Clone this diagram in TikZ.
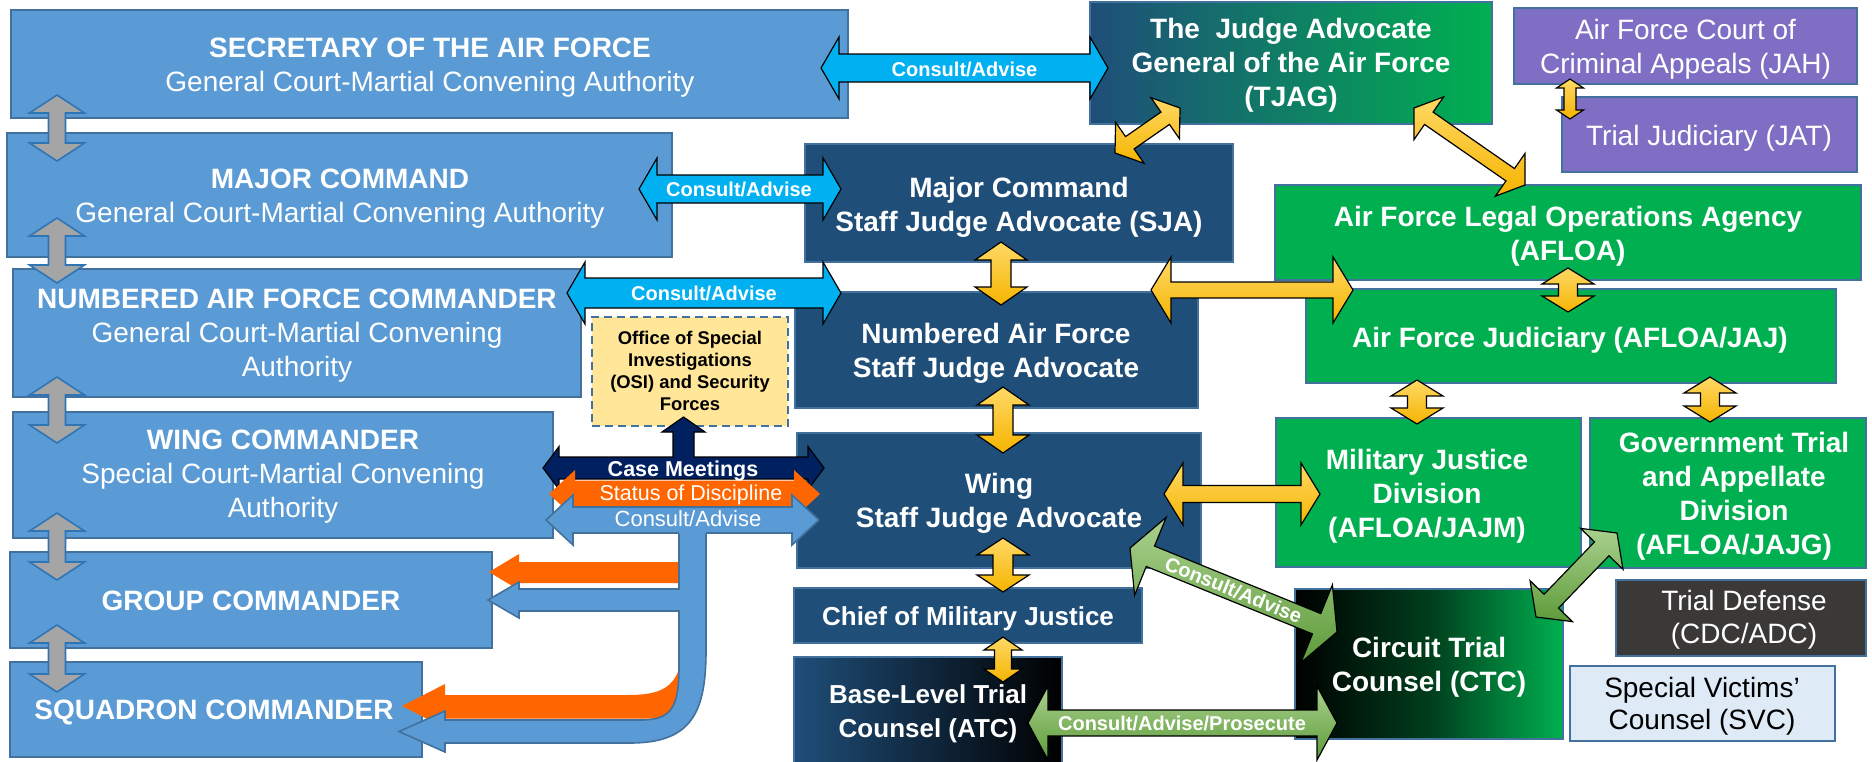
\documentclass[tikz,border=0pt]{standalone}
\usepackage{fontspec}
\setmainfont{Liberation Sans}
\usetikzlibrary{calc}
\definecolor{boxblue}{HTML}{5B9BD5}
\definecolor{boxline}{HTML}{41719C}
\definecolor{dkblue}{HTML}{1F4E79}
\definecolor{agreen}{HTML}{00B050}
\definecolor{apurple}{HTML}{7F6FC4}
\definecolor{acyan}{HTML}{00B0F0}
\definecolor{navyc}{HTML}{002060}
\definecolor{aorange}{HTML}{FF6600}
\definecolor{gold1}{HTML}{F5B400}
\definecolor{gold2}{HTML}{FFD966}
\definecolor{lgreen1}{HTML}{5E9B3A}
\definecolor{lgreen2}{HTML}{A9D18E}
\definecolor{greyfill}{HTML}{A5A5A5}
\definecolor{greyline}{HTML}{2E75B6}
\definecolor{osifill}{HTML}{FFE699}
\definecolor{tdgrey}{HTML}{3B3838}
\definecolor{svcfill}{HTML}{DEEBF7}
% double block arrow: #1 style, #2 end A, #3 end B, #4 half shaft, #5 half head, #6 head length
\newcommand\dblarr[6]{%
 \path[#1] (#2) -- ($(#2)!#6!(#3)!#5!90:(#3)$) -- ($(#2)!#6!(#3)!#4!90:(#3)$)
  -- ($(#3)!#6!(#2)!#4!-90:(#2)$) -- ($(#3)!#6!(#2)!#5!-90:(#2)$) -- (#3)
  -- ($(#3)!#6!(#2)!#5!90:(#2)$) -- ($(#3)!#6!(#2)!#4!90:(#2)$)
  -- ($(#2)!#6!(#3)!#4!-90:(#3)$) -- ($(#2)!#6!(#3)!#5!-90:(#3)$) -- cycle;}
% box: #1 name, #2 style, #3 x1, #4 y1, #5 x2, #6 y2
\newcommand\mkbox[6]{%
 \node[#2, anchor=north west, minimum width={(#5-#3)*0.5pt}, minimum height={(#6-#4)*0.5pt}] (#1) at (#3,#4) {};}
\begin{document}
\begin{tikzpicture}[x=0.5pt,y=-0.5pt,
 basebox/.style={inner sep=0pt, outer sep=0pt, line width=0.8pt, draw=boxline},
 lbox/.style={basebox, fill=boxblue},
 dbox/.style={basebox, fill=dkblue},
 gbox/.style={basebox, fill=agreen},
 pbox/.style={basebox, fill=apurple},
 ltxt/.style={text=white, align=center, inner sep=0pt, font=\fontsize{14}{17}\selectfont},
 rtxt/.style={text=white, align=center, inner sep=0pt, font=\bfseries\fontsize{14}{17}\selectfont},
 rtxtsm/.style={text=white, align=center, inner sep=0pt, font=\bfseries\fontsize{13}{17}\selectfont},
 rreg/.style={text=white, align=center, inner sep=0pt, font=\fontsize{14}{17}\selectfont},
 albl/.style={text=white, inner sep=0pt, font=\bfseries\fontsize{10}{12}\selectfont},
 cyanarr/.style={fill=acyan, draw=black, line width=0.6pt},
 yarr/.style={draw=black, line width=0.6pt, top color=gold2, bottom color=gold1},
 garr/.style={draw=black, line width=0.6pt, top color=lgreen2, bottom color=lgreen1},
 grarrow/.style={fill=greyfill, draw=greyline, line width=0.8pt},
 navyarr/.style={fill=navyc, draw=black, line width=0.6pt},
 orarr/.style={fill=aorange},
 blarr/.style={fill=boxblue, draw=boxline, line width=0.8pt}
]
\useasboundingbox (0,0) rectangle (1872,761);
\fill[white] (0,0) rectangle (1872,761);

% ---------- boxes ----------
\mkbox{sec}{lbox}{11}{10}{848}{118}
\mkbox{maj}{lbox}{7}{133}{672}{257}
\mkbox{naf}{lbox}{13}{269}{581}{397}
\mkbox{wing}{lbox}{13}{412}{553}{538}
\mkbox{grp}{lbox}{10}{552}{492}{648}
\mkbox{sqd}{lbox}{10}{662}{422}{757}
\mkbox{tjag}{dbox, left color=dkblue, right color=agreen}{1090}{2}{1492}{124}
\mkbox{jah}{pbox}{1514}{8}{1857}{84}
\mkbox{jat}{pbox}{1562}{97}{1857}{172}
\mkbox{mcsja}{dbox}{805}{144}{1233}{262}
\mkbox{afloa}{gbox}{1275}{185}{1861}{280}
\mkbox{nafsja}{dbox}{795}{292}{1198}{408}
\mkbox{jaj}{gbox}{1306}{289}{1836}{383}
\mkbox{osi}{basebox, fill=osifill, dashed, dash pattern=on 4pt off 2.5pt}{592}{317}{788}{426}
\mkbox{wingsja}{dbox}{797}{433}{1201}{568}
\mkbox{mjd}{gbox}{1276}{418}{1581}{567}
\mkbox{gtad}{gbox}{1590}{418}{1866}{568}
\mkbox{cmj}{dbox}{794}{588}{1142}{643}
\mkbox{td}{basebox, fill=tdgrey}{1616}{580}{1866}{656}
\mkbox{bltc}{dbox, left color=dkblue, right color=black}{794}{657}{1062}{763}
\mkbox{ctc}{dbox, left color=black, right color=agreen, middle color=black!65!agreen}{1295}{589}{1563}{739}
\mkbox{svc}{basebox, fill=svcfill}{1570}{666}{1835}{741}

% ---------- box texts ----------
\node[ltxt] (sec-t) at (430,68) {{\bfseries SECRETARY OF THE AIR FORCE}\\General Court-Martial Convening Authority};
\node[ltxt] (maj-t) at (340,198.5) {{\bfseries MAJOR COMMAND}\\General Court-Martial Convening Authority};
\node[ltxt] (naf-t) at (297,335.5) {{\bfseries NUMBERED AIR FORCE COMMANDER}\\General Court-Martial Convening\\Authority};
\node[ltxt] (wing-t) at (283,476.5) {{\bfseries WING COMMANDER}\\Special Court-Martial Convening\\Authority};
\node[rtxt, anchor=base] (grp-t) at (251,610) {GROUP COMMANDER};
\node[rtxt, anchor=base] (sqd-t) at (214,719) {SQUADRON COMMANDER};
\node[rtxt] (tjag-t) at (1291,65) {The~ Judge Advocate\\General of the Air Force\\(TJAG)};
\node[rtxt] (mcsja-t) at (1019,207) {Major Command\\Staff Judge Advocate (SJA)};
\node[rtxt] (nafsja-t) at (996,353) {Numbered Air Force\\Staff Judge Advocate};
\node[rtxt] (wingsja-t) at (999,503) {Wing\\Staff Judge Advocate};
\node[rtxtsm, anchor=base] (cmj-t) at (968,625) {Chief of Military Justice};
\node[rtxtsm] (bltc-t) at (928,713.5) {Base-Level Trial\\Counsel (ATC)};
\node[rtxt] (ctc-t) at (1429,667) {Circuit Trial\\Counsel (CTC)};
\node[rtxt] (afloa-t) at (1568,236.5) {Air Force Legal Operations Agency\\(AFLOA)};
\node[rtxt, anchor=base] (jaj-t) at (1570,347) {Air Force Judiciary (AFLOA/JAJ)};
\node[rtxt] (mjd-t) at (1427,496.5) {Military Justice\\Division\\(AFLOA/JAJM)};
\node[rtxt] (gtad-t) at (1734,496) {Government Trial\\and Appellate\\Division\\(AFLOA/JAJG)};
\node[rreg] (jah-t) at (1685.5,49.5) {Air Force Court of\\Criminal Appeals (JAH)};
\node[rreg, anchor=base] (jat-t) at (1709,145) {Trial Judiciary (JAT)};
\node[rreg, font=\fontsize{14}{16.5}\selectfont] (td-t) at (1744,619.5) {Trial Defense\\(CDC/ADC)};
\node[rreg, text=black, font=\fontsize{14}{16}\selectfont] (svc-t) at (1702,706) {Special Victims’\\Counsel (SVC)};
\node[align=center, inner sep=0pt, font=\bfseries\fontsize{9.2}{11}\selectfont] (osi-t) at (690,371.4) {Office of Special\\Investigations\\(OSI) and Security\\Forces};

% ---------- connector end points ----------
\coordinate (gr1a) at (57,95);  \coordinate (gr1b) at (57,161);
\coordinate (gr2a) at (57,218); \coordinate (gr2b) at (57,283);
\coordinate (gr3a) at (57,377); \coordinate (gr3b) at (57,443);
\coordinate (gr4a) at (57,513); \coordinate (gr4b) at (57,580);
\coordinate (gr5a) at (57,625); \coordinate (gr5b) at (57,692);
\coordinate (c1a) at (821,68);  \coordinate (c1b) at (1108,68);
\coordinate (c2a) at (639,189); \coordinate (c2b) at (841,189);
\coordinate (c3a) at (567,293); \coordinate (c3b) at (841,293);
\coordinate (y1a) at (1115,153); \coordinate (y1b) at (1180,108);
\coordinate (y2a) at (1414,108); \coordinate (y2b) at (1525,185);
\coordinate (y3a) at (1001,242); \coordinate (y3b) at (1001,305);
\coordinate (y4a) at (1003,387); \coordinate (y4b) at (1003,453);
\coordinate (y5a) at (1003,538); \coordinate (y5b) at (1003,592);
\coordinate (y6a) at (1003,637); \coordinate (y6b) at (1003,682);
\coordinate (y7a) at (1151,290); \coordinate (y7b) at (1353,290);
\coordinate (y8a) at (1568,268); \coordinate (y8b) at (1568,312);
\coordinate (y9a) at (1417,380); \coordinate (y9b) at (1417,424);
\coordinate (y10a) at (1710,377); \coordinate (y10b) at (1710,422);
\coordinate (y11a) at (1164,494); \coordinate (y11b) at (1320,494);
\coordinate (y12a) at (1570,79); \coordinate (y12b) at (1570,119);
\coordinate (g1a) at (1130,548); \coordinate (g1b) at (1337,632);
\coordinate (g2a) at (1617,533); \coordinate (g2b) at (1536,617);
\coordinate (g3a) at (1028,723); \coordinate (g3b) at (1337,723);
\coordinate (nva) at (543,468); \coordinate (nvb) at (824,468);
\coordinate (ora) at (549,494); \coordinate (orb) at (820,494);
\coordinate (bla) at (546,520); \coordinate (blb) at (819,520);

% ---------- grey arrows ----------
\dblarr{grarrow}{gr1a}{gr1b}{4.25pt}{13.75pt}{9pt}
\dblarr{grarrow}{gr2a}{gr2b}{4.25pt}{13.75pt}{9pt}
\dblarr{grarrow}{gr3a}{gr3b}{4.25pt}{13.75pt}{9pt}
\dblarr{grarrow}{gr4a}{gr4b}{4.25pt}{13.75pt}{9pt}
\dblarr{grarrow}{gr5a}{gr5b}{4.25pt}{13.75pt}{9pt}

% ---------- cyan arrows ----------
\dblarr{cyanarr}{c1a}{c1b}{7pt}{15.5pt}{9pt}
\dblarr{cyanarr}{c2a}{c2b}{7pt}{15.5pt}{9pt}
\dblarr{cyanarr}{c3a}{c3b}{7.5pt}{15.5pt}{9pt}
\node[albl, anchor=base] (c1-l) at (964.5,76) {Consult/Advise};
\node[albl, anchor=base] (c2-l) at (739,196.7) {Consult/Advise};
\node[albl, anchor=base] (c3-l) at (704,300.7) {Consult/Advise};

% ---------- yellow arrows ----------
\dblarr{yarr}{y1a}{y1b}{3.75pt}{12.5pt}{9pt}
\dblarr{yarr}{y2a}{y2b}{3.75pt}{13pt}{9pt}
\dblarr{yarr}{y3a}{y3b}{5pt}{13pt}{9pt}
\dblarr{yarr}{y4a}{y4b}{5pt}{13pt}{9pt}
\dblarr{yarr}{y5a}{y5b}{5pt}{13pt}{8.5pt}
\dblarr{yarr}{y6a}{y6b}{4.25pt}{9.5pt}{6.5pt}
\dblarr{yarr}{y7a}{y7b}{4pt}{16.5pt}{10pt}
\dblarr{yarr}{y8a}{y8b}{4.75pt}{13pt}{8pt}
\dblarr{yarr}{y9a}{y9b}{4.75pt}{13pt}{8pt}
\dblarr{yarr}{y10a}{y10b}{4.75pt}{13pt}{8pt}
\dblarr{yarr}{y11a}{y11b}{4.25pt}{15.5pt}{9.5pt}
\dblarr{yarr}{y12a}{y12b}{3pt}{6.75pt}{4.5pt}

% ---------- green arrows ----------
\dblarr{garr}{g1a}{g1b}{5.5pt}{21pt}{11pt}
\dblarr{garr}{g2a}{g2b}{5pt}{14.75pt}{11pt}
\dblarr{garr}{g3a}{g3b}{6.5pt}{18.5pt}{10pt}
\path (g1a) -- (g1b) node[midway, sloped, albl] (g1-l) {Consult/Advise};
\node[albl, anchor=base] (g3-l) at (1182,730.7) {Consult/Advise/Prosecute};

% ---------- case meetings / status / consult (wing) ----------
\dblarr{navyarr}{nva}{nvb}{5.5pt}{10.75pt}{8pt}
\fill[navyc] (673,470) -- (673,432) -- (662,432) -- (683.5,417) -- (705,432) -- (694,432) -- (694,470) -- cycle;
\draw[black, line width=0.6pt] (673,457.5) -- (673,432) -- (662,432) -- (683.5,417) -- (705,432) -- (694,432) -- (694,457.5);
\dblarr{orarr}{ora}{orb}{6.75pt}{12pt}{13pt}
% orange branches to group and squadron
\fill[aorange] (684,505) -- (684,562) -- (519,562) -- (519,554) -- (489,572) -- (519,590) -- (519,583) -- (684,583) -- (684,630)
  .. controls (684,688) and (665,695) .. (626,695) -- (445,695) -- (445,684) -- (402,706) -- (445,728) -- (445,718.5) -- (650,718.5)
  .. controls (685,718.5) and (695,700) .. (695,650) -- (695,505) -- cycle;
\dblarr{blarr}{bla}{blb}{6.5pt}{12.5pt}{13.5pt}
% light blue branches to group and squadron
\fill[boxblue] (679,528) -- (679,589) -- (519,589) -- (519,582) -- (488,600) -- (519,618) -- (519,611) -- (679,611) -- (679,665)
  .. controls (679,708) and (672,720) .. (640,720) -- (445,720) -- (445,711) -- (399,731.5) -- (445,752) -- (445,743) -- (630,743)
  .. controls (692,743) and (706,712) .. (706,650) -- (706,528) -- cycle;
\draw[boxline, line width=0.8pt] (679,533.5) -- (679,589) -- (519,589) -- (519,582) -- (488,600) -- (519,618) -- (519,611) -- (679,611) -- (679,665)
  .. controls (679,708) and (672,720) .. (640,720) -- (445,720) -- (445,711) -- (399,731.5) -- (445,752) -- (445,743) -- (630,743)
  .. controls (692,743) and (706,712) .. (706,650) -- (706,533.5);
\node[albl, anchor=base, font=\bfseries\fontsize{10.75}{12}\selectfont] (nv-l) at (683,476) {Case Meetings};
\node[albl, anchor=base, font=\fontsize{10.75}{12}\selectfont] (or-l) at (691,500.7) {Status of Discipline};
\node[albl, anchor=base, font=\fontsize{11}{12}\selectfont] (bl-l) at (688,526.7) {Consult/Advise};
\end{tikzpicture}
\end{document}
